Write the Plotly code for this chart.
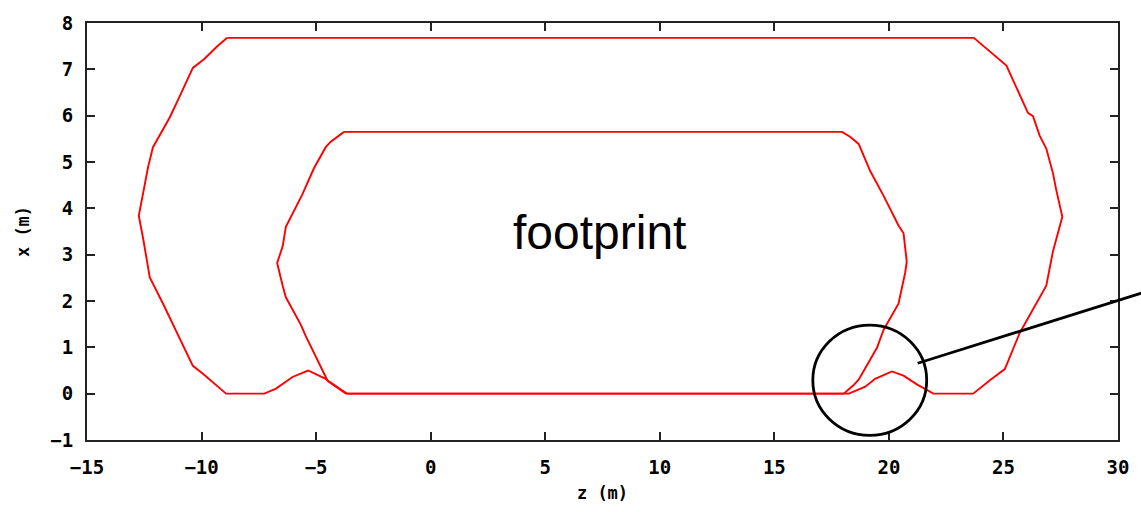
import plotly.graph_objects as go

# Outer footprint contour (z, x in metres)
outer_z = [-8.88, -9.29, -9.87, -10.38, -10.96, -11.39, -12.12, -12.33, -12.74,
           -12.55, -12.26, -11.68, -10.38, -9.94, -8.93, -7.26, -6.75, -6.03,
           -5.35, -4.58, -4.43, -3.70, 18.25, 18.97, 19.40, 20.13, 20.64, 21.22,
           21.94, 23.68, 24.41, 25.06, 25.71, 26.87, 27.16, 27.57, 27.30, 27.16,
           26.87, 26.58, 26.29, 26.07, 25.13, 24.77, 24.04, 23.71, -8.88]
outer_x = [7.68, 7.51, 7.23, 7.03, 6.41, 5.96, 5.32, 4.90, 3.84,
           3.35, 2.51, 1.94, 0.60, 0.43, 0.00, 0.00, 0.11, 0.36,
           0.50, 0.32, 0.25, 0.00, 0.00, 0.15, 0.32, 0.48, 0.39, 0.20,
           0.00, 0.00, 0.29, 0.53, 1.31, 2.33, 3.07, 3.82, 4.41, 4.76,
           5.29, 5.57, 5.99, 6.06, 7.08, 7.23, 7.54, 7.68, 7.68]

# Inner footprint contour
inner_z = [-3.78, -4.36, -4.58, -5.09, -5.60, -6.32, -6.46, -6.70, -6.46, -6.32,
           -5.67, -5.45, -4.51, -3.64, 18.03, 18.45, 18.68, 19.48, 19.77, 20.42,
           20.71, 20.78, 20.64, 20.42, 19.77, 19.19, 18.68, 18.32, 17.96, -3.78]
inner_x = [5.65, 5.44, 5.32, 4.87, 4.30, 3.60, 3.18, 2.82, 2.33, 2.08,
           1.49, 1.24, 0.29, 0.00, 0.00, 0.18, 0.30, 0.99, 1.38, 1.94,
           2.61, 2.85, 3.46, 3.63, 4.27, 4.80, 5.39, 5.54, 5.65, 5.65]

z_ticks = [-15, -10, -5, 0, 5, 10, 15, 20, 25, 30]
x_ticks = [-1, 0, 1, 2, 3, 4, 5, 6, 7, 8]

tick_font = dict(family="DejaVu Sans Mono", size=19, color="black", weight="bold")
title_font = dict(family="DejaVu Sans Mono", size=17, color="black", weight="bold")

fig = go.Figure()
fig.add_trace(go.Scatter(x=outer_z, y=outer_x, mode="lines",
                         line=dict(color="#ff0000", width=1.9), showlegend=False))
fig.add_trace(go.Scatter(x=inner_z, y=inner_x, mode="lines",
                         line=dict(color="#ff0000", width=1.9), showlegend=False))

axis_common = dict(showgrid=False, zeroline=False, showline=True, linecolor="#222",
                   linewidth=2, mirror="ticks", ticks="inside", ticklen=8,
                   tickwidth=2, tickcolor="#222", tickfont=tick_font)

fig.update_xaxes(range=[-15, 30], tickvals=z_ticks, ticklabelstandoff=9,
                 title=dict(text="z (m)", font=title_font, standoff=10), **axis_common)
fig.update_yaxes(range=[-1, 8], tickvals=x_ticks, ticklabelstandoff=8,
                 title=dict(text="x (m)", font=title_font, standoff=16), **axis_common)

# Highlight circle and pointer line
fig.add_shape(type="circle", xref="x", yref="y", x0=16.68, x1=21.65, y0=-0.90, y1=1.48,
              line=dict(color="black", width=2.8))
fig.add_shape(type="line", xref="paper", yref="paper", x0=0.8057, y0=0.184,
              x1=1.05, y1=0.3733, line=dict(color="black", width=2.8))

fig.add_annotation(x=7.39, y=3.47, xref="x", yref="y", text="footprint", showarrow=False,
                   font=dict(family="Liberation Sans", size=48, color="black"))

fig.update_layout(width=1141, height=512, plot_bgcolor="white", paper_bgcolor="white",
                  margin=dict(l=87, r=19, t=15, b=67))

fig.write_html("out.html")
